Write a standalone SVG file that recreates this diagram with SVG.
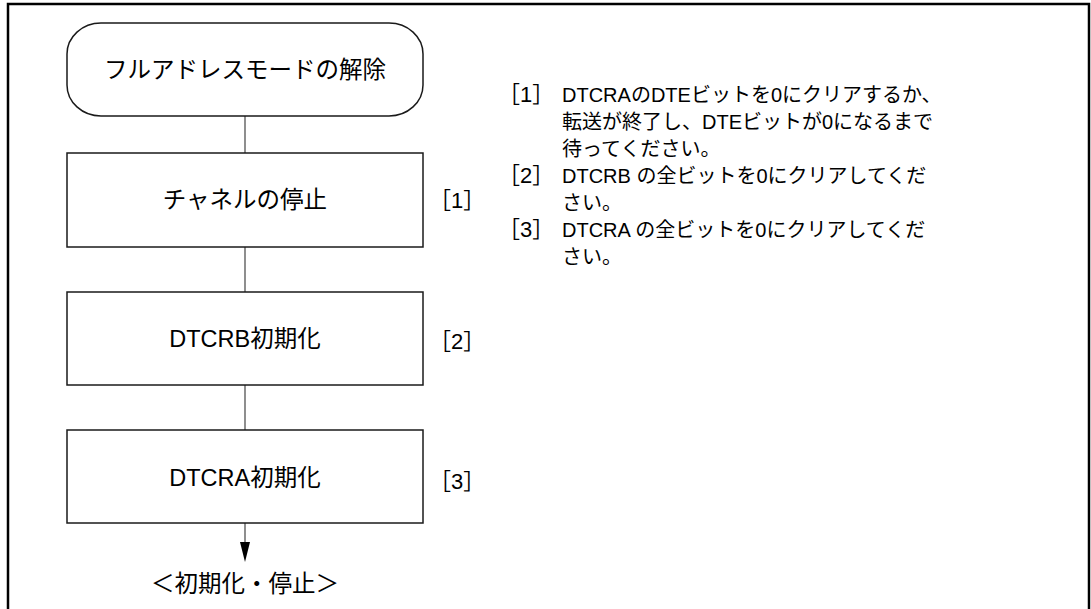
<svg xmlns="http://www.w3.org/2000/svg" width="1091" height="609" viewBox="0 0 1091 609">
<style>
.t{font-family:"Liberation Sans","Noto Sans CJK JP",sans-serif;fill:#000}
.c{font-size:23.5px;text-anchor:middle}
.b{font-size:22px}
.r{font-size:20px}
.node{fill:#fff;stroke:#1a1a1a;stroke-width:1.5}
.conn{stroke:#444;stroke-width:1.2;fill:none}
</style>
<rect x="8" y="4" width="1081" height="620" fill="#fff" stroke="#000" stroke-width="2.5"/>
<g id="connectors">
<line class="conn" x1="245" y1="116" x2="245" y2="153"/>
<line class="conn" x1="245" y1="247" x2="245" y2="292"/>
<line class="conn" x1="245" y1="385" x2="245" y2="430"/>
<line class="conn" x1="245" y1="523" x2="245" y2="545"/>
<path d="M240,542 L250,542 L245,562 Z" fill="#000"/>
</g>
<g id="start">
<rect class="node" x="67" y="23" width="356" height="93" rx="34" ry="31"/>
<text class="t c" x="245" y="78">フルアドレスモードの解除</text>
</g>
<g id="step1">
<rect class="node" x="67" y="153" width="356" height="94"/>
<text class="t c" x="245" y="208">チャネルの停止</text>
<text class="t b" x="429" y="208">［1］</text>
</g>
<g id="step2">
<rect class="node" x="67" y="292" width="356" height="93"/>
<text class="t c" x="245" y="347">DTCRB初期化</text>
<text class="t b" x="429" y="349">［2］</text>
</g>
<g id="step3">
<rect class="node" x="67" y="430" width="356" height="93"/>
<text class="t c" x="245" y="486">DTCRA初期化</text>
<text class="t b" x="429" y="489">［3］</text>
</g>
<g id="end">
<text class="t c" x="245" y="592">＜初期化・停止＞</text>
</g>
<g id="notes">
<text class="t b" x="498" y="102">［1］</text>
<text class="t r" x="562" y="102">DTCRAのDTEビットを0にクリアするか、</text>
<text class="t r" x="562" y="129">転送が終了し、DTEビットが0になるまで</text>
<text class="t r" x="562" y="156">待ってください。</text>
<text class="t b" x="498" y="183">［2］</text>
<text class="t r" x="562" y="183">DTCRB の全ビットを0にクリアしてくだ</text>
<text class="t r" x="562" y="210">さい。</text>
<text class="t b" x="498" y="237">［3］</text>
<text class="t r" x="562" y="237">DTCRA の全ビットを0にクリアしてくだ</text>
<text class="t r" x="562" y="264">さい。</text>
</g>
</svg>
